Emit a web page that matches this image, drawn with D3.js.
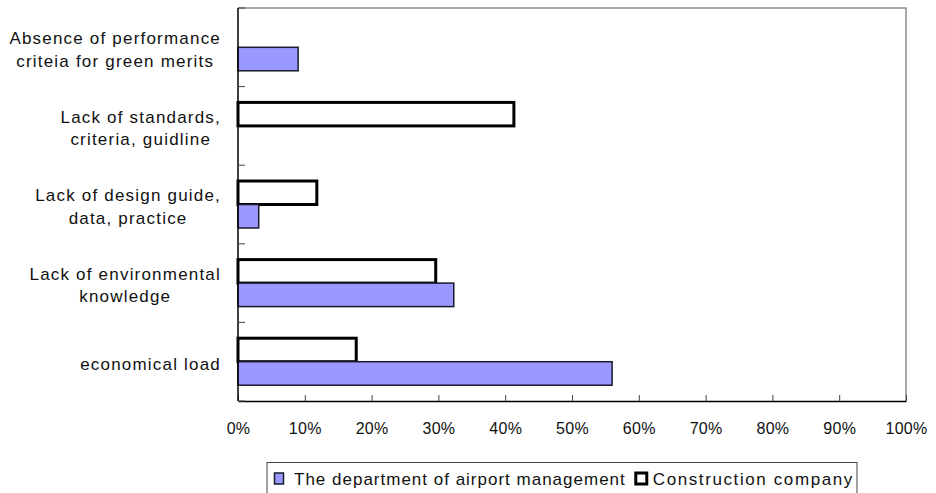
<!DOCTYPE html>
<html>
<head>
<meta charset="utf-8">
<script src="https://cdn.jsdelivr.net/npm/d3@7"></script>
<style>
  html, body { margin: 0; padding: 0; background: #fff; }
  svg { display: block; }
  text { font-family: "Liberation Sans", Arial, sans-serif; fill: #111; }
</style>
</head>
<body>
<svg id="chart" width="936" height="493"></svg>
<script>
// Obstacle categories, listed top to bottom; each entry holds the label lines
const categories = [
  ["Absence of performance", "criteia for green merits"],
  ["Lack of standards,", "criteria, guidline"],
  ["Lack of design guide,", "data, practice"],
  ["Lack of environmental", "knowledge"],
  ["economical load"]
];
// Share of responses (%) per group
const airportValues = [9.0, 0, 3.1, 32.3, 56.0];
const constructionValues = [0, 41.3, 11.8, 29.6, 17.7];
const seriesNames = ["The department of airport management", "Construction company"];
const xTicks = [0, 10, 20, 30, 40, 50, 60, 70, 80, 90, 100];

const svg = d3.select("#chart");
const plot = { left: 238, right: 906, top: 8, bottom: 401 };

const x = d3.scaleLinear().domain([0, 100]).range([plot.left, plot.right]);
const y = d3.scaleBand().domain(d3.range(categories.length))
  .range([plot.top, plot.bottom]).paddingInner(0).paddingOuter(0);
const barH = 23.5;

// plot frame: grey top/right edges
svg.append("path")
  .attr("d", `M${plot.left},${plot.top}H${plot.right}V${plot.bottom}`)
  .attr("fill", "none").attr("stroke", "#8a8a8a").attr("stroke-width", 1.5);

// bars: construction above the band centre, airport below it
const rows = categories.map((c, i) => ({ i, airport: airportValues[i], construction: constructionValues[i] }));
const g = svg.append("g");
rows.forEach(r => {
  const cy = y(r.i) + y.bandwidth() / 2;
  if (r.construction > 0) {
    g.append("rect")
      .attr("x", x(0)).attr("y", cy - barH)
      .attr("width", x(r.construction) - x(0)).attr("height", barH)
      .attr("fill", "#fff").attr("stroke", "#000").attr("stroke-width", 3);
  }
  if (r.airport > 0) {
    g.append("rect")
      .attr("x", x(0)).attr("y", cy)
      .attr("width", x(r.airport) - x(0)).attr("height", barH)
      .attr("fill", "#9999ff").attr("stroke", "#1a1a2e").attr("stroke-width", 1.5);
  }
});

// x axis with inward ticks
const xAxis = d3.axisBottom(x).tickValues(xTicks).tickFormat(d => d + "%")
  .tickSizeInner(-6).tickSizeOuter(0).tickPadding(22);
const xg = svg.append("g").attr("transform", `translate(0,${plot.bottom})`).call(xAxis);
xg.select(".domain").attr("stroke", "#000").attr("stroke-width", 1.5);
xg.selectAll(".tick line").attr("stroke", "#444").attr("stroke-width", 1);
xg.selectAll(".tick text")
  .style("font-family", '"Liberation Sans", Arial, sans-serif')
  .style("font-size", "16px").style("letter-spacing", "0.3px").attr("fill", "#111");

// y axis: ticks on band boundaries, pointing into the plot
const yEdges = d3.range(categories.length + 1).map(i => plot.top + i * y.step());
const yg = svg.append("g");
yg.append("line").attr("x1", plot.left).attr("x2", plot.left)
  .attr("y1", plot.top).attr("y2", plot.bottom)
  .attr("stroke", "#000").attr("stroke-width", 1.5);
yg.selectAll("line.tk").data(yEdges).join("line").attr("class", "tk")
  .attr("x1", plot.left).attr("x2", plot.left + 7)
  .attr("y1", d => d).attr("y2", d => d)
  .attr("stroke", "#444").attr("stroke-width", 1);

// category labels: each block centred on itself, right-aligned to the axis
const lineGap = 22.5;
const labelRight = 221;
categories.forEach((lines, i) => {
  const cy = y(i) + y.bandwidth() / 2 + 2;
  const t = svg.append("text")
    .style("font-size", "17px").style("letter-spacing", "1.2px");
  lines.forEach((ln, k) => {
    t.append("tspan").text(ln)
      .attr("y", cy + 6 + (k - (lines.length - 1) / 2) * lineGap);
  });
  const widths = [];
  t.selectAll("tspan").each(function () { widths.push(this.getComputedTextLength()); });
  const cx = labelRight - d3.max(widths) / 2;
  t.attr("text-anchor", "middle").selectAll("tspan").attr("x", cx);
});

// legend
const lg = svg.append("g");
const legBox = { x: 267, y: 462.5, w: 590, h: 34 };
lg.append("rect").attr("x", legBox.x).attr("y", legBox.y)
  .attr("width", legBox.w).attr("height", legBox.h)
  .attr("fill", "#fff").attr("stroke", "#444").attr("stroke-width", 1);
lg.append("rect").attr("x", 274.5).attr("y", 473).attr("width", 9).attr("height", 11)
  .attr("fill", "#9999ff").attr("stroke", "#1a1a2e").attr("stroke-width", 1.5);
const t1 = lg.append("text").attr("x", 294).attr("y", 485)
  .style("font-size", "17px").style("letter-spacing", "1px").text(seriesNames[0]);
const t1end = 294 + t1.node().getComputedTextLength();
const sx = t1end + 10;
lg.append("rect").attr("x", sx).attr("y", 473).attr("width", 11).attr("height", 11)
  .attr("fill", "#fff").attr("stroke", "#000").attr("stroke-width", 3);
lg.append("text").attr("x", sx + 17).attr("y", 485)
  .style("font-size", "17px").style("letter-spacing", "1.6px").text(seriesNames[1]);
</script>
</body>
</html>
